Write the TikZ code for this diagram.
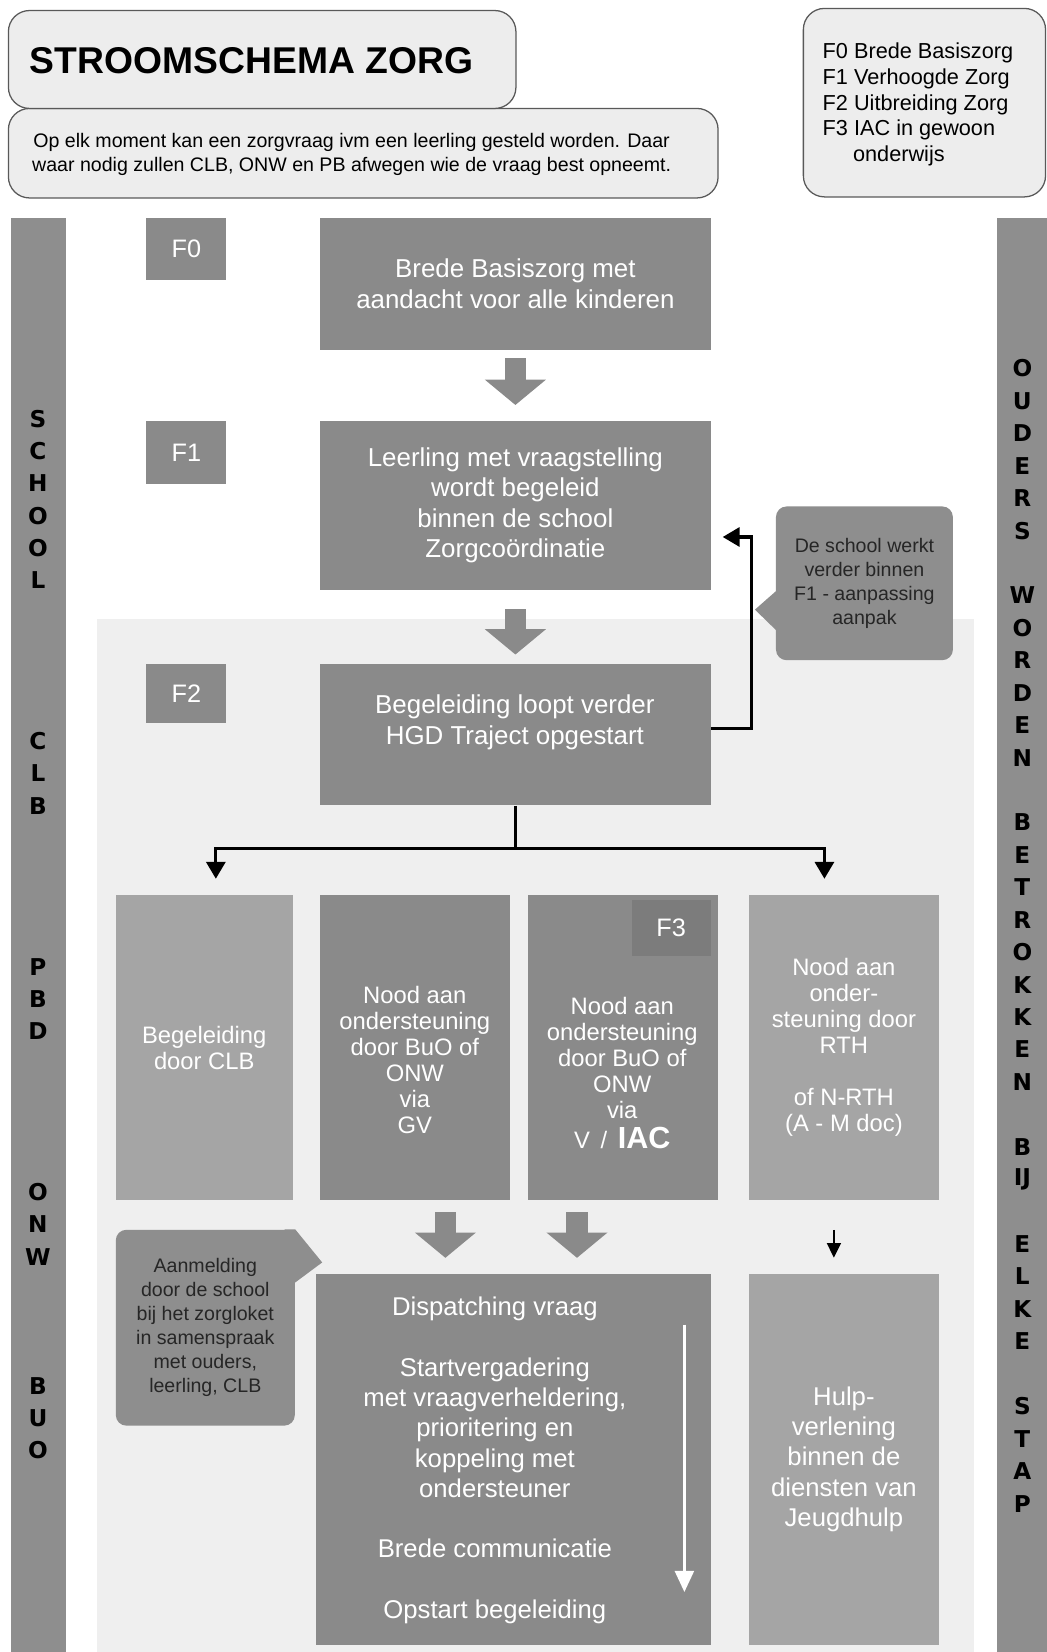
\documentclass[tikz,border=0pt]{standalone}
\usepackage{fontspec}
\setmainfont{Liberation Sans}
\newfontfamily\barfont{DejaVu Sans}
\usetikzlibrary{arrows.meta,fit}

\definecolor{bargray}{HTML}{8E8E8E}
\definecolor{boxgray}{HTML}{8A8A8A}
\definecolor{lightbox}{HTML}{A5A5A5}
\definecolor{taggray}{HTML}{7C7C7C}
\definecolor{zonegray}{HTML}{EFEFEF}
\definecolor{headfill}{HTML}{EDEDED}

\newcommand{\fsz}[2]{\fontsize{#1}{#2}\selectfont}

\tikzset{
	headbox/.style={draw=black!65, fill=headfill, line width=0.6pt, rounded corners=10pt, inner sep=0pt},
	sidebar/.style={fill=bargray, inner sep=0pt},
	barletter/.style={font=\barfont\bfseries\fsz{11}{11}, inner sep=0pt},
	zbox/.style={fill=boxgray, inner sep=0pt},
	lzbox/.style={zbox, fill=lightbox},
	boxtext/.style={text=white, align=center, inner sep=0pt, font=\fsz{12.3}{14.35}},
	lowtext/.style={font=\fsz{11.3}{12.35}},
	tagtext/.style={boxtext, font=\fsz{12}{12}},
	note/.style={fill=bargray, rounded corners=5pt, inner sep=0pt},
	notetext/.style={align=center, inner sep=0pt, text=black!85, font=\fsz{9.3}{11.4}},
	flow/.style={line width=1.5pt, -{Triangle[width=9pt,length=8pt]}},
	bigarrow/.style={draw=boxgray, line width=10pt, -{Triangle[width=29pt,length=12pt,line width=0pt]}}
}

\begin{document}
\begin{tikzpicture}[x=0.5pt, y=-0.5pt]
\useasboundingbox (0,0) rectangle (994,1569);

% zone F2 and side bars
\node[fill=zonegray, inner sep=0pt, fit={(92,588) (925,1569)}] (zone) {};
\node[sidebar, fit={(10,207) (63,1569)}] (lbar) {};
\node[sidebar, fit={(947,207) (994,1569)}] (rbar) {};
\foreach \ch/\i in {S/0,C/1,H/2,O/3,O/4,L/5,C/10,L/11,B/12,P/17,B/18,D/19,O/24,N/25,W/26,B/30,U/31,O/32}
	\node[barletter] (l\i) at (36,{398+30.6*\i}) {\ch};
\foreach \ch/\i in {O/0,U/1,D/2,E/3,R/4,S/5,W/7,O/8,R/9,D/10,E/11,N/12,B/14,E/15,T/16,R/17,O/18,K/19,K/20,E/21,N/22,B/24,IJ/25,E/27,L/28,K/29,E/30,S/32,T/33,A/34,P/35}
	\node[barletter] (r\i) at (971,{350+30.8*\i}) {\ch};

% header
\node[headbox, fit={(8,103) (682,188)}] (intro) {};
\node[headbox, fit={(8,10) (490,103)}] (title) {};
\node[anchor=west, inner sep=0pt, font=\fsz{17.7}{17.7}\bfseries] (titletext) at (28,58) {STROOMSCHEMA ZORG};
\node[align=center, inner sep=0pt, font=\fsz{9.3}{11.5}] (introtext) at (334,147)
	{Op elk moment kan een zorgvraag ivm een leerling gesteld worden. Daar\\waar nodig zullen CLB, ONW en PB afwegen wie de vraag best opneemt.};
\node[headbox, fit={(763,8) (993,187)}] (legend) {};
\node[anchor=north west, align=left, inner sep=0pt, font=\fsz{10.3}{12.3}] (legendtext) at (781,40)
	{F0 Brede Basiszorg\\F1 Verhoogde Zorg\\F2 Uitbreiding Zorg\\F3 IAC in gewoon\\\hspace*{1.4em}onderwijs};

% F0 - F1 - F2
\node[zbox, fit={(139,207) (215,266)}] (tf0) {};
\node[zbox, fit={(139,400) (215,460)}] (tf1) {};
\node[zbox, fit={(139,631) (215,687)}] (tf2) {};
\node[tagtext] at (tf0) {F0};
\node[tagtext] at (tf1) {F1};
\node[tagtext] at (tf2) {F2};
\node[zbox, fit={(304,207) (675,332)}] (f0) {};
\node[boxtext] (f0text) at (f0) {Brede Basiszorg met\\aandacht voor alle kinderen};
\node[zbox, fit={(304,400) (675,560)}] (f1) {};
\node[boxtext] (f1text) at (f1) {Leerling met vraagstelling\\wordt begeleid\\binnen de school\\Zorgcoördinatie};
\node[zbox, fit={(304,631) (675,765)}] (f2) {};
\node[boxtext] (f2text) at (489,686) {Begeleiding loopt verder\\HGD Traject opgestart};
\draw[bigarrow, shorten <=4pt, shorten >=7.5pt] (f0) -- (f1);
\draw[bigarrow, shorten <=9pt, shorten >=4.5pt] (f1) -- (f2);

% back to F1
\node[note, fit={(737,481) (905,627)}] (keep) {};
\fill[bargray] ([xshift=1pt]keep.west |- 0,560) -- (717,579) -- ([xshift=1pt]keep.west |- 0,600) -- cycle;
\node[notetext] (keeptext) at (keep) {De school werkt\\verder binnen\\F1 - aanpassing\\aanpak};
\coordinate (fb) at (714,510);
\draw[flow, shorten >=5.5pt] ([yshift=3pt]f2.east) -| (fb) -- (f1.east |- fb);

% branches
\node[lzbox, fit={(110,850) (278,1140)}] (b1) {};
\node[boxtext, lowtext] (b1text) at (b1) {Begeleiding\\door CLB};
\node[zbox, fit={(304,850) (484,1140)}] (b2) {};
\node[boxtext, lowtext] (b2text) at (394,1007) {Nood aan\\ondersteuning\\door BuO of\\ONW\\via\\GV};
\node[zbox, fit={(501,850) (682,1140)}] (b3) {};
\node[zbox, fill=taggray, fit={(600,855) (675,908)}] (tf3) {};
\node[tagtext] at (tf3) {F3};
\node[boxtext, lowtext] (b3text) at (591,1019) {Nood aan\\ondersteuning\\door BuO of\\ONW\\via\\[2pt]V \,/\, {\bfseries\fsz{14.5}{14.5}IAC}};
\node[lzbox, fit={(711,850) (892,1140)}] (b4) {};
\node[boxtext, lowtext] (b4text) at (b4) {Nood aan\\onder-\\steuning door\\RTH\\[12.35pt]of N-RTH\\(A - M doc)};
\coordinate (tl) at (205,806);
\coordinate (tr) at (783,806);
\draw[flow, shorten >=7.5pt] (f2.south) |- (tl) -- (tl |- b1.north);
\draw[flow, shorten >=7.5pt] (f2.south) |- (tr) -- (tr |- b4.north);

% bottom row
\node[zbox, fit={(300,1210) (675,1562)}] (disp) {};
\node[boxtext, font=\fsz{12.2}{14.35}] (disptext) at (470,1387)
	{Dispatching vraag\\[14.35pt]Startvergadering\\met vraagverheldering,\\prioritering en\\koppeling met\\ondersteuner\\[14.35pt]Brede communicatie\\[14.35pt]Opstart begeleiding};
\node[lzbox, fit={(711,1210) (892,1562)}] (hulp) {};
\node[boxtext, font=\fsz{12.2}{14.3}] (hulptext) at (hulp) {Hulp-\\verlening\\binnen de\\diensten van\\Jeugdhulp};
\coordinate (ca) at (423,0);
\coordinate (cb) at (548,0);
\draw[bigarrow, shorten <=5.5pt, shorten >=7.5pt] (b2.south -| ca) -- (disp.north -| ca);
\draw[bigarrow, shorten <=5.5pt, shorten >=7.5pt] (b3.south -| cb) -- (disp.north -| cb);
\coordinate (hs) at (792,1168);
\draw[line width=1.2pt, -{Triangle[width=6.5pt,length=7pt]}, shorten >=7.5pt] (hs) -- (hs |- hulp.north);
\coordinate (wa) at (650,1258);
\coordinate (wb) at (650,1512);
\draw[white, line width=1.2pt, -{Triangle[width=9pt,length=10pt]}] (wa) -- (wb);

% aanmelding
\node[note, fit={(110,1168) (280,1354)}] (aanm) {};
\fill[bargray] ([xshift=-5pt]aanm.north east) -- (aanm.north east) -- (306,1199) -- (aanm.east |- 0,1218) -- ([xshift=-5pt]aanm.east |- 0,1218) -- cycle;
\node[notetext] (aanmtext) at (aanm) {Aanmelding\\door de school\\bij het zorgloket\\in samenspraak\\met ouders,\\leerling, CLB};
\end{tikzpicture}
\end{document}
